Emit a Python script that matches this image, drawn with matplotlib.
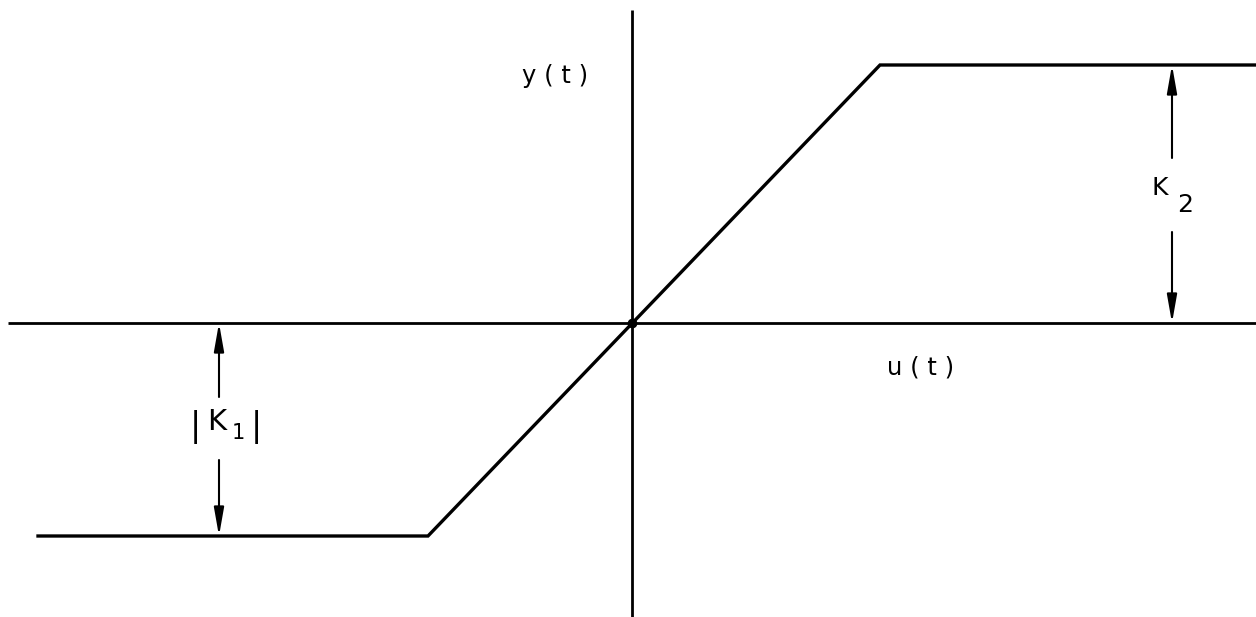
import matplotlib
matplotlib.use("Agg")
import matplotlib.pyplot as plt

# Saturation characteristic: breakpoints of the input and the two output limits
u_points = [-594, -204, 248, 624]
K1 = -213
K2 = 258
y_points = [K1, K1, K2, K2]

# Extent of the drawn coordinate axes
x_axis_span = [-624, 624]
y_axis_span = [-294, 313]

fig = plt.figure(figsize=(12.56, 6.17), dpi=100)
ax = fig.add_axes([0, 0, 1, 1])
ax.set_xlim(-632, 624)
ax.set_ylim(-294, 323)
ax.axis("off")
fig.patch.set_facecolor("white")

FONT = "DejaVu Sans"

# Axes through the origin
ax.plot(x_axis_span, [0, 0], color="black", lw=2.0, solid_capstyle="butt")
ax.plot([0, 0], y_axis_span, color="black", lw=2.0, solid_capstyle="butt")

# Transfer curve
ax.plot(u_points, y_points, color="black", lw=2.4, solid_joinstyle="miter")
ax.plot([0], [0], "o", color="black", ms=6)

arrow = dict(arrowstyle="-|>,head_length=1.7,head_width=0.3", color="black",
             lw=1.5, shrinkA=0, shrinkB=0)

# K2 dimension arrows and label
xk2 = 540
ax.annotate("", xy=(xk2, K2), xytext=(xk2, 165), arrowprops=arrow)
ax.annotate("", xy=(xk2, 0), xytext=(xk2, 91), arrowprops=arrow)
ax.text(528, 135, "K", fontsize=18, ha="center", va="center", family=FONT)
ax.text(553, 118, "2", fontsize=18, ha="center", va="center", family=FONT)

# |K1| dimension arrows and label
xk1 = -413
ax.annotate("", xy=(xk1, 0), xytext=(xk1, -74), arrowprops=arrow)
ax.annotate("", xy=(xk1, K1), xytext=(xk1, -137), arrowprops=arrow)
ax.text(-437, -104, "|", fontsize=24, ha="center", va="center", family=FONT)
ax.text(-415, -99, "K", fontsize=21, ha="center", va="center", family=FONT)
ax.text(-394, -110, "1", fontsize=15, ha="center", va="center", family=FONT)
ax.text(-376, -104, "|", fontsize=24, ha="center", va="center", family=FONT)

# Axis labels
ax.text(-77, 247, "y ( t )", fontsize=17.5, ha="center", va="center", family=FONT)
ax.text(289, -45, "u ( t )", fontsize=17.5, ha="center", va="center", family=FONT)

fig.savefig("out.png", dpi=100, facecolor="white")
